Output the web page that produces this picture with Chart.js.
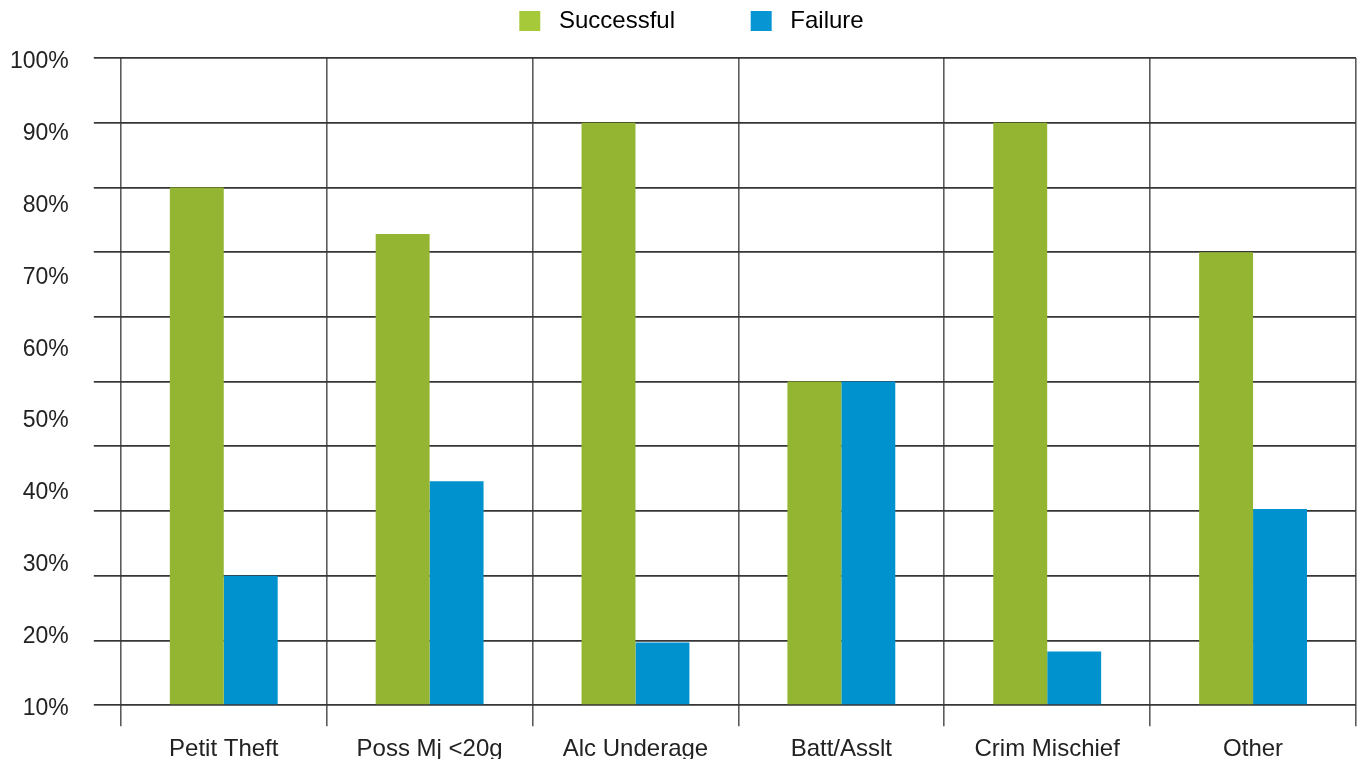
<!DOCTYPE html>
<html>
<head>
<meta charset="utf-8">
<script src="https://cdn.jsdelivr.net/npm/chart.js@4.4.1/dist/chart.umd.min.js"></script>
<style>
  html, body { margin: 0; padding: 0; background: #ffffff; }
  #wrap { width: 1357px; height: 759px; position: relative; }
</style>
</head>
<body>
<div id="wrap"><canvas id="c"></canvas></div>
<script>
const categories = ['Petit Theft', 'Poss Mj <20g', 'Alc Underage', 'Batt/Asslt', 'Crim Mischief', 'Other'];
const successful = [80, 72.8, 90, 50, 90, 70];
const failure = [20, 34.6, 9.7, 50, 8.3, 30.3];
const seriesNames = ['Successful', 'Failure'];
const axisLabelValues = [10, 20, 30, 40, 50, 60, 70, 80, 90, 100];

const FONT = '"Liberation Sans", Arial, sans-serif';
const barColors = ['#93b531', '#0092cf'];
const legendColors = ['#a6c93a', '#0895d3'];

const legendSpacer = {
  id: 'legendSpacer',
  beforeInit(chart) {
    const orig = chart.legend.fit;
    chart.legend.fit = function () { orig.call(this); this.height += 15; };
  },
  afterLayout(chart) {
    chart.legend.left += 18;
  }
};

new Chart(document.getElementById('c'), {
  type: 'bar',
  data: {
    labels: categories,
    datasets: [
      { label: seriesNames[0], data: successful, backgroundColor: barColors[0], yAxisID: 'y' },
      { label: seriesNames[1], data: failure, backgroundColor: barColors[1], yAxisID: 'y' }
    ]
  },
  plugins: [legendSpacer],
  options: {
    responsive: true,
    maintainAspectRatio: false,
    animation: false,
    categoryPercentage: 0.524,
    barPercentage: 1.0,
    layout: { padding: { left: 9, right: 1, top: 0, bottom: -14 } },
    plugins: {
      tooltip: { enabled: false },
      legend: {
        position: 'top',
        labels: {
          font: { family: FONT, size: 24 },
          color: '#262626',
          boxWidth: 21,
          boxHeight: 20,
          padding: 9,
          generateLabels(chart) {
            return chart.data.datasets.map((ds, i) => ({
              text: ' ' + ds.label + (i === 0 ? '          ' : ''),
              fillStyle: legendColors[i],
              strokeStyle: legendColors[i],
              lineWidth: 0,
              hidden: false,
              datasetIndex: i
            }));
          }
        }
      }
    },
    scales: {
      x: {
        offset: true,
        grid: { offset: true, color: '#5c5c5c', lineWidth: 1.6, tickLength: 21, drawTicks: true },
        border: { display: false },
        ticks: { font: { family: FONT, size: 24 }, color: '#222222', padding: 9, maxRotation: 0, autoSkip: false }
      },
      y: {
        position: 'left',
        weight: 0,
        min: 0,
        max: 100,
        grid: { color: '#363636', lineWidth: 1.7, tickLength: 27, drawTicks: true },
        border: { display: false },
        ticks: { display: false, stepSize: 10 }
      },
      y2: {
        position: 'left',
        weight: 10,
        min: 10.5,
        max: 100.5,
        afterBuildTicks(scale) { scale.ticks = axisLabelValues.map(v => ({ value: v })); },
        grid: { display: false, drawTicks: true, tickLength: 24 },
        border: { display: false },
        ticks: {
          font: { family: FONT, size: 23 },
          color: '#222222',
          padding: 1,
          callback: v => v + '%'
        }
      }
    }
  }
});
</script>
</body>
</html>
